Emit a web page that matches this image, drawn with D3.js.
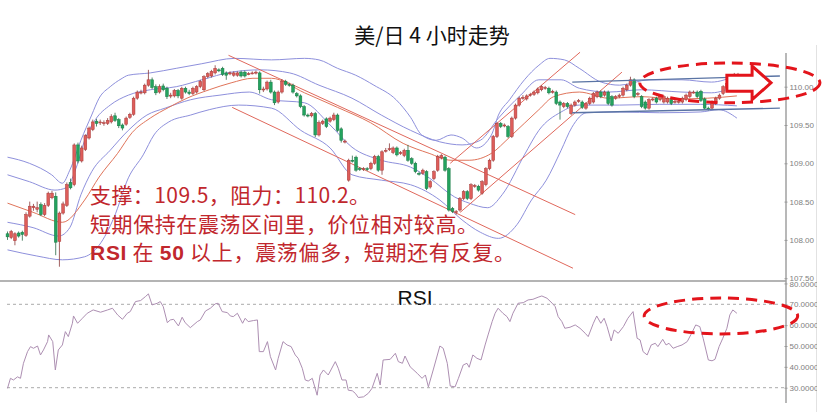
<!DOCTYPE html>
<html><head><meta charset="utf-8">
<script src="https://cdn.jsdelivr.net/npm/d3@7"></script>
<style>html,body{margin:0;padding:0;background:#fff;}svg{display:block;}</style>
</head><body><svg id="c" width="831" height="417"></svg>
<script>
// ---------- DATA (4-hour USD/JPY bars) ----------
const opens = [108.08,108.03,107.99,108.09,108.10,108.06,108.31,108.42,108.40,108.46,
108.33,108.45,108.55,108.57,107.98,108.35,108.45,108.75,108.72,109.24,
109.03,109.18,109.33,109.44,109.55,109.53,109.52,109.52,109.54,109.62,
109.57,109.50,109.51,109.60,109.64,109.85,109.92,109.92,110.02,110.09,
110.00,109.93,110.01,109.98,109.88,109.88,109.95,109.85,109.98,109.93,
109.91,109.93,110.00,109.96,110.13,110.14,110.18,110.22,110.24,110.18,
110.17,110.15,110.15,110.19,110.19,110.17,110.18,110.18,110.18,109.96,
109.97,110.06,109.93,109.80,109.93,110.07,110.03,110.02,109.91,109.88,
109.74,109.63,109.62,109.65,109.37,109.52,109.58,109.55,109.57,109.63,
109.45,109.28,108.78,109.04,109.08,108.93,108.92,108.93,108.93,
109.00,109.09,108.91,109.16,109.18,109.14,109.20,109.13,109.10,109.17,
109.06,109.00,108.87,108.87,108.89,108.69,108.80,108.91,109.07,109.08,
108.93,108.41,108.36,108.39,108.54,108.63,108.54,108.70,108.70,108.61,
108.72,108.93,109.04,109.35,109.52,109.49,109.48,109.35,109.59,109.76,
109.85,109.84,109.89,109.90,109.92,109.96,109.98,109.98,109.93,
109.93,109.80,109.74,109.78,109.65,109.76,109.81,109.80,109.72,109.78,
109.80,109.87,109.93,109.89,109.93,109.87,109.85,109.87,109.89,109.96,
110.02,110.09,109.90,109.87,109.80,109.72,109.83,109.85,109.83,109.80,
109.80,109.83,109.80,109.80,109.80,109.83,109.87,109.93,109.93,109.94,
109.84,109.72,109.72,109.78,109.85,109.91,109.98,110.04,110.14,110.14];
const closes = [108.04,108.11,108.08,108.05,108.07,108.33,108.44,108.44,108.42,108.33,
108.45,108.61,108.61,107.97,108.35,108.47,108.72,108.68,109.24,109.03,
109.20,109.36,109.46,109.54,109.52,109.54,109.53,109.56,109.61,109.56,
109.49,109.46,109.59,109.64,109.85,109.93,109.93,110.02,110.09,109.99,
109.92,110.00,109.96,109.87,109.89,109.95,109.88,109.98,109.93,109.91,
109.98,110.00,110.07,110.13,110.17,110.20,110.24,110.21,110.16,110.15,
110.18,110.18,110.18,110.14,110.14,110.17,110.18,110.19,109.96,109.97,
110.06,109.93,109.79,109.93,110.07,110.03,110.02,109.93,109.88,109.74,
109.63,109.62,109.65,109.37,109.53,109.55,109.48,109.59,109.63,109.43,
109.30,109.29,109.04,109.03,108.91,108.92,108.93,108.92,109.00,
109.09,108.91,109.15,109.17,109.19,109.20,109.11,109.14,109.17,109.04,
109.00,108.89,108.86,108.91,108.67,108.76,108.89,109.09,109.10,108.91,
108.39,108.37,108.37,108.54,108.63,108.54,108.72,108.71,108.65,108.76,
108.93,109.04,109.35,109.52,109.48,109.50,109.35,109.59,109.76,109.85,
109.86,109.88,109.90,109.93,109.97,110.00,109.99,109.92,109.94,
109.78,109.76,109.78,109.74,109.76,109.80,109.82,109.73,109.78,109.85,
109.91,109.93,109.87,109.93,109.78,109.76,109.87,109.89,109.98,110.02,
110.09,109.87,109.91,109.74,109.72,109.83,109.84,109.80,109.87,109.87,
109.85,109.78,109.81,109.81,109.85,109.89,109.93,109.93,109.87,109.82,
109.72,109.71,109.80,109.85,109.89,110.00,110.04,110.11,110.15,110.16];
const highs = [108.11,108.13,108.10,108.11,108.12,108.36,108.50,108.47,108.50,108.49,
108.48,108.63,108.64,108.62,108.37,108.50,108.75,108.80,109.26,109.27,
109.23,109.38,109.48,109.57,109.58,109.57,109.56,109.59,109.64,109.66,
109.59,109.52,109.61,109.66,109.87,109.95,109.96,110.04,110.22,110.12,
110.03,110.03,110.04,110.00,109.92,109.97,109.97,110.00,110.00,109.96,
110.00,110.02,110.09,110.15,110.19,110.22,110.28,110.24,110.26,110.20,
110.20,110.20,110.20,110.21,110.21,110.19,110.20,110.21,110.20,110.00,
110.08,110.09,109.95,109.95,110.10,110.09,110.05,110.04,109.93,109.90,
109.76,109.65,109.67,109.67,109.56,109.57,109.60,109.61,109.66,109.65,
109.47,109.31,109.06,109.10,109.10,108.95,108.95,108.95,109.02,
109.11,109.11,109.17,109.20,109.26,109.22,109.22,109.16,109.19,109.24,
109.08,109.02,108.89,108.93,108.91,108.78,108.91,109.11,109.12,109.10,
108.95,108.43,108.39,108.56,108.65,108.65,108.74,108.73,108.72,108.78,
108.95,109.06,109.37,109.54,109.54,109.52,109.50,109.61,109.78,109.87,
109.89,109.90,109.92,109.95,109.99,110.02,110.01,110.00,109.96,
109.95,109.82,109.80,109.80,109.78,109.82,109.84,109.82,109.80,109.87,
109.93,109.95,109.95,109.95,109.95,109.89,109.89,109.91,110.00,110.04,
110.13,110.11,109.93,109.89,109.82,109.85,109.86,109.87,109.89,109.89,
109.87,109.85,109.83,109.83,109.87,109.91,109.95,109.95,109.95,109.96,
109.86,109.74,109.82,109.87,109.91,110.02,110.07,110.13,110.18,110.18];
const lows = [108.00,108.01,107.93,108.03,107.99,108.04,108.29,108.38,108.36,108.31,
108.31,108.43,108.53,107.80,107.65,108.33,108.43,108.66,108.70,109.00,
109.01,109.16,109.31,109.42,109.48,109.50,109.49,109.50,109.52,109.54,
109.46,109.43,109.49,109.58,109.62,109.83,109.90,109.90,110.00,109.97,
109.89,109.91,109.94,109.84,109.85,109.86,109.85,109.83,109.91,109.89,
109.89,109.91,109.98,109.94,110.11,110.12,110.16,110.19,110.14,110.09,
110.15,110.13,110.13,110.12,110.12,110.15,110.16,110.16,109.91,109.93,
109.95,109.91,109.76,109.78,109.91,110.01,110.00,109.91,109.86,109.72,
109.61,109.60,109.60,109.34,109.35,109.50,109.46,109.53,109.55,109.41,
109.27,109.26,108.76,109.01,108.89,108.90,108.90,108.90,108.91,
108.98,108.89,108.85,109.14,109.16,109.12,109.09,109.11,109.08,109.02,
108.98,108.87,108.84,108.85,108.65,108.67,108.78,108.89,109.05,108.89,
108.37,108.35,108.33,108.37,108.52,108.52,108.52,108.68,108.63,108.59,
108.70,108.91,109.02,109.33,109.46,109.47,109.33,109.33,109.57,109.74,
109.83,109.82,109.87,109.88,109.90,109.94,109.96,109.90,109.91,
109.76,109.57,109.72,109.72,109.63,109.74,109.79,109.71,109.70,109.76,
109.78,109.85,109.85,109.87,109.76,109.74,109.83,109.85,109.87,109.94,
110.00,109.85,109.88,109.72,109.70,109.70,109.81,109.78,109.81,109.78,
109.78,109.76,109.78,109.78,109.78,109.81,109.85,109.91,109.85,109.80,
109.70,109.69,109.70,109.76,109.83,109.89,109.96,110.02,110.12,110.12];

// band lines: [bar index, price]
const bandOuterUp = [[0,109.08],[5.9,109.00],[11.9,108.85],[14.8,108.74],[16.8,108.91],[19.8,109.30],[22.7,109.63],[24.7,109.85],[27.7,110.00],[30.6,110.10],[32.6,110.15],[38.5,110.18],[45.5,110.24],[52.4,110.30],[61.3,110.37],[71.2,110.35],[80.1,110.37],[84,110.35],[89,110.24],[93.9,110.15],[98.8,110.02],[104.8,109.83],[108.7,109.60],[111.7,109.37],[115.6,109.30],[119.6,109.37],[122.6,109.33],[126.5,109.20],[130.5,109.37],[132.4,109.63],[135.4,109.83],[139.4,110.09],[143.3,110.28],[146.3,110.37],[150.2,110.35],[154.2,110.24],[160.1,110.06],[165.1,110.02],[173,110.09],[181.9,110.09],[189.8,110.06],[196.7,110.15]];
const bandInnerUp = [[0,108.85],[5.9,108.76],[12.8,108.65],[15.8,108.68],[18.8,108.98],[20.8,109.30],[23.7,109.57],[27.7,109.76],[32.6,109.89],[38.5,109.96],[45.5,110.00],[52.4,110.09],[60.3,110.19],[68.2,110.22],[76.1,110.18],[84,110.02],[92.9,109.85],[100.8,109.63],[108.7,109.43],[116.6,109.28],[122.6,109.24],[127.5,109.30],[132.4,109.59],[138.4,109.89],[143.3,110.09],[149.3,110.09],[154.2,109.98],[162.1,109.93],[171,109.96],[181.9,109.93],[189.8,109.92],[196.7,110.02]];
const bandMid = [[0,108.48],[6.9,108.36],[14.8,108.23],[20.8,108.52],[24.7,108.82],[29.7,109.13],[33.6,109.40],[38.5,109.59],[43.5,109.73],[48.4,109.85],[54.4,109.96],[60.3,110.05],[66.2,110.11],[71.2,110.11],[80.1,109.92],[89,109.73],[97.9,109.53],[106.7,109.26],[113.7,109.13],[119.6,109.04],[124.5,109.04],[130.5,109.13],[135.4,109.34],[143.3,109.70],[147.3,109.87],[154.2,109.93],[162.1,109.85],[171,109.87],[179.9,109.84],[188.8,109.85],[196.7,109.88]];
const bandInnerLow = [[0,108.23],[6.9,108.16],[13.8,108.05],[16.8,108.16],[19.8,108.59],[22.7,108.89],[27.7,109.17],[32.6,109.43],[37.6,109.63],[42.5,109.72],[49.4,109.83],[57.3,109.89],[65.2,109.93],[71.2,109.83],[80.1,109.79],[87,109.50],[92.9,109.21],[100.8,109.04],[108.7,108.95],[113.7,108.81],[120.6,108.56],[124.5,108.48],[129.5,108.42],[133.4,108.59],[139.4,109.11],[143.3,109.43],[149.3,109.67],[154.2,109.76],[165.1,109.76],[175.9,109.77],[186.8,109.77],[196.7,109.75]];
const bandOuterLow = [[0,107.87],[7.9,107.79],[14.8,107.74],[20.8,107.78],[24.7,107.93],[28.7,108.29],[32.6,108.81],[36.6,109.11],[39.5,109.37],[43.5,109.54],[49.4,109.63],[54.4,109.70],[62.3,109.76],[71.2,109.72],[79.1,109.43],[87,109.20],[92.9,108.85],[100.8,108.78],[108.7,108.72],[116.6,108.52],[122.6,108.26],[127.5,108.10],[132.4,108.02],[137.4,108.20],[141.3,108.52],[145.3,108.78],[149.3,109.17],[152.2,109.47],[156.2,109.66],[165.1,109.67],[175.9,109.66],[186.8,109.67],[191.8,109.70],[196.7,109.59]];

// hand-drawn trend lines: [[bar, price],[bar, price]]
const trendRed = [
  [[59.6,110.41],[153.1,108.33]],
  [[60.6,109.73],[152.5,107.63]],
  [[119.4,109.00],[154.4,110.45]],
  [[122.1,108.36],[165.7,110.19]]
];
const trendBlue = [
  [[152.3,110.06],[208.3,110.14]],
  [[152.3,109.66],[208.3,109.72]]
];

// RSI: [bar index, value]
const rsi = [[0,29.7],[0.8,34.5],[1.6,33.7],[2.7,35.2],[3.5,34.5],[4.3,41.7],[5.4,47.3],[6.2,49.7],[7,48.9],[8.1,50],[8.9,45.7],[9.7,48.1],[10.8,52.1],[11.1,55.3],[12.2,52.1],[12.9,38.5],[13.7,48.1],[14.8,50.5],[15.6,56.9],[16.4,54.5],[17.5,60.9],[17.8,64.4],[18.9,60.9],[20.2,63.3],[21.5,65.7],[23.1,67.3],[25.1,66.2],[27,67.3],[28.3,68.1],[29.7,64.9],[31,62.8],[32.3,65.7],[33.1,66.5],[34.5,71.3],[35.9,71.8],[37.2,73.7],[38,75],[39,69.7],[40.4,70.5],[41.2,71.3],[42,68.9],[43.1,61.2],[43.9,62.5],[44.8,62.8],[46.1,59.6],[47.1,63.8],[47.9,61.2],[49.3,58.8],[51.2,61.7],[52,62.5],[53.4,66.8],[54.7,68.1],[56,70.2],[56.8,70.5],[57.9,66.5],[59.3,66],[60.1,64.4],[60.9,64.1],[62,65.7],[63.4,60.9],[64.1,63.3],[64.9,61.7],[66.3,62.2],[67.4,62.5],[67.9,47.3],[69,47.3],[70.1,52.1],[70.9,44.9],[72.3,38.5],[73,44.1],[74.3,52.1],[75.4,50.5],[76.5,49.7],[77.6,45.7],[78.4,44.1],[79.5,39.3],[80.3,33.7],[81.1,33.2],[82.2,34.5],[83.5,26.4],[84.3,36.1],[85.2,38.5],[86.5,36.1],[88.4,42.5],[89.2,39.3],[90.2,33.7],[91.3,33.7],[91.9,28.8],[93,28.5],[93.8,27.3],[94.6,25.3],[96,25.6],[97.3,27.3],[98.3,29.7],[99.7,36.9],[100.5,31.3],[101.3,43.3],[103.2,43.6],[104.6,46.5],[105.4,42.5],[106.5,41.7],[107.2,45.2],[108.6,40],[110.5,36.9],[111.8,34.5],[112.7,36.1],[113.5,30.4],[114.8,38.5],[116.6,50],[117.5,48.9],[118.6,41.7],[119.4,30.8],[120.7,30.4],[121.6,34.5],[122.9,40.9],[123.9,41.7],[124.5,39.8],[125.5,45.7],[126.6,44.1],[127.7,43.3],[128.8,50.5],[129.6,55.3],[130.7,61.7],[131.5,65.7],[132.3,68.1],[133.6,65.7],[134.7,64.1],[135.5,61.7],[136.3,65.7],[137.7,70.5],[139.1,70.8],[140.4,72.1],[141.7,72.4],[143.1,73.4],[144.1,74],[145.5,72.9],[146.9,70.5],[147.7,68.9],[148.5,64.1],[149.5,61.7],[150.3,58.5],[151.7,59],[153.1,60.1],[154.4,58.5],[155.8,56.1],[156.6,54.5],[158,60.9],[158.9,64.4],[160,60.9],[160.9,63.3],[161.7,59.3],[162.8,52.4],[163.6,57.7],[164.7,56.1],[166.1,59.3],[167.3,63.3],[168.7,66.5],[169.8,53.7],[170.6,52.9],[171.4,47.3],[172.5,45.7],[173.6,50.5],[174.7,51.3],[175.4,49.7],[176.7,53.2],[177.6,50.5],[178.4,51.3],[179.5,48.9],[180.6,49.7],[181.9,50.5],[183.3,52.1],[184.5,56.1],[185.6,60.1],[186.7,59.3],[187.6,53.7],[189,43.3],[190,42.9],[190.8,43.6],[191.9,49.7],[192.9,53.7],[194,58.5],[194.8,64.9],[195.6,67.3],[196.7,65.7]];

const priceTicks = [107.5,108,108.5,109,109.5,110];
const rsiTicks = [30,40,50,60,70,80];
const rsiLevels = [70,30];
const title = "美/日 4 小时走势";
const notes = [
  [{t:"支撑：109.5，阻力：110.2。"}],
  [{t:"短期保持在震荡区间里，价位相对较高。"}],
  [{t:"RSI",s:1},{t:" 在 "},{t:"50",s:1},{t:" 以上，震荡偏多，短期还有反复。"}]
];
// annotation marks in data units
const priceEllipse = {t:194.8, p:110.05, rt:24.3, rp:0.26};
const rsiEllipse = {t:192.4, v:64.4, rt:20.7, rv:8.6};
const arrow = {t0:194.0, t1:200.8, t2:205.9, bodyTop:110.15, bodyBot:109.94, headTop:110.27, headBot:109.83, mid:110.05};

// ---------- DRAW ----------
const svg = d3.select("#c");
svg.append("rect").attr("width",831).attr("height",417).attr("fill","#fff");

const x = d3.scaleLinear().domain([0,197]).range([7.5,738]);
const y = d3.scaleLinear().domain([107.5,110]).range([278.2,86.7]);
const yR = d3.scaleLinear().domain([30,70]).range([387.7,304.3]);

const defs = svg.append("defs");
defs.append("clipPath").attr("id","cp").append("rect").attr("x",0).attr("y",45).attr("width",786).attr("height",235);
defs.append("clipPath").attr("id","cl").append("rect").attr("x",780).attr("y",0).attr("width",37).attr("height",417);

// title
svg.append("text").attr("x",432).attr("y",43).attr("text-anchor","middle")
  .attr("font-family","'Noto Sans CJK SC','Noto Sans',sans-serif").attr("font-size",21).attr("fill","#111").text(title);

// frame lines
svg.append("line").attr("x1",0).attr("x2",786).attr("y1",281).attr("y2",281).attr("stroke","#b4b4b4").attr("stroke-width",2);
svg.append("line").attr("x1",786).attr("x2",786).attr("y1",53).attr("y2",403).attr("stroke","#a0a0a0").attr("stroke-width",1.5);
svg.append("line").attr("x1",816.5).attr("x2",816.5).attr("y1",45).attr("y2",412).attr("stroke","#e2e2e2").attr("stroke-width",1);

// axes (outer group carries the clip in page coordinates)
const axWrap = svg.append("g").attr("clip-path","url(#cl)");
const axP = axWrap.append("g").attr("transform","translate(784.5,0)")
  .call(d3.axisRight(y).tickValues(priceTicks).tickFormat(d3.format(".2f")).tickSize(3).tickPadding(2));
const axR = axWrap.append("g").attr("transform","translate(784.5,0)")
  .call(d3.axisRight(yR).tickValues(rsiTicks).tickFormat(d3.format(".4f")).tickSize(3).tickPadding(2));
[axP,axR].forEach(a=>{
  a.select(".domain").remove();
  a.selectAll("line").attr("stroke","#999");
  a.selectAll("text").attr("fill","#808080").attr("font-size",8).attr("font-family","'Liberation Sans',Arial,sans-serif");
});

const plot = svg.append("g").attr("clip-path","url(#cp)");

// bands
const bandLine = d3.line().x(d=>x(d[0])).y(d=>y(d[1])).curve(d3.curveMonotoneX);
[bandOuterUp,bandInnerUp,bandInnerLow,bandOuterLow].forEach(b=>{
  plot.append("path").attr("d",bandLine(b)).attr("fill","none").attr("stroke","#8e90dc").attr("stroke-width",1);
});
plot.append("path").attr("d",bandLine(bandMid)).attr("fill","none").attr("stroke","#e0745a").attr("stroke-width",1);

// trend lines
trendRed.forEach(l=>{
  plot.append("line").attr("x1",x(l[0][0])).attr("y1",y(l[0][1])).attr("x2",x(l[1][0])).attr("y2",y(l[1][1]))
    .attr("stroke","#e0685c").attr("stroke-width",1);
});
trendBlue.forEach(l=>{
  svg.append("line").attr("x1",x(l[0][0])).attr("y1",y(l[0][1])).attr("x2",x(l[1][0])).attr("y2",y(l[1][1]))
    .attr("stroke","#5a74a4").attr("stroke-width",1.3);
});

// candles
const bars = d3.range(opens.length).map(i=>({i,o:opens[i],c:closes[i],h:highs[i],l:lows[i]}));
const bw = 2.8;
const cg = plot.append("g");
cg.selectAll("line.w").data(bars).join("line").attr("class","w")
  .attr("x1",d=>x(d.i)).attr("x2",d=>x(d.i)).attr("y1",d=>y(d.h)).attr("y2",d=>y(d.l))
  .attr("stroke",d=>d.c>=d.o?"#8a3a3a":"#2a6a45").attr("stroke-width",0.8);
cg.selectAll("rect").data(bars).join("rect")
  .attr("x",d=>x(d.i)-bw/2).attr("width",bw)
  .attr("y",d=>y(Math.max(d.o,d.c)))
  .attr("height",d=>Math.max(1,Math.abs(y(d.o)-y(d.c))))
  .attr("fill",d=>d.c>=d.o?"#de5d5a":"#23a35f")
  .attr("stroke",d=>d.c>=d.o?"#a83a38":"#187a44").attr("stroke-width",0.5);

// annotation text
const tg = svg.append("g").attr("fill","#c1272d").attr("font-size",21)
  .attr("font-family","'Noto Sans CJK SC','Noto Sans',sans-serif");
const lineLen = [280,388,425];
notes.forEach((ln,k)=>{
  const t = tg.append("text").attr("x",90).attr("y",203+k*28.5)
    .attr("textLength",lineLen[k]).attr("lengthAdjust","spacing");
  ln.forEach(seg=>{
    const s = t.append("tspan").text(seg.t);
    if(seg.s) s.attr("font-family","'Liberation Sans',Arial,sans-serif").attr("font-weight","bold");
  });
});

// RSI panel
svg.append("text").attr("x",415).attr("y",305).attr("text-anchor","middle")
  .attr("font-family","'Liberation Sans',Arial,sans-serif").attr("font-size",21).attr("fill","#111").text("RSI");
rsiLevels.forEach(v=>{
  svg.append("line").attr("x1",7).attr("x2",784).attr("y1",yR(v)).attr("y2",yR(v))
    .attr("stroke","#aaaaaa").attr("stroke-width",1).attr("stroke-dasharray","3,3");
});
svg.append("path").attr("d",d3.line().x(d=>x(d[0])).y(d=>yR(d[1]))(rsi))
  .attr("fill","none").attr("stroke","#ad8fb2").attr("stroke-width",1);

// dashed ellipses
svg.append("ellipse").attr("cx",x(priceEllipse.t)).attr("cy",y(priceEllipse.p))
  .attr("rx",x(priceEllipse.t+priceEllipse.rt)-x(priceEllipse.t))
  .attr("ry",y(priceEllipse.p-priceEllipse.rp)-y(priceEllipse.p))
  .attr("fill","none").attr("stroke","#e3141b").attr("stroke-width",3).attr("stroke-dasharray","11,7");
svg.append("ellipse").attr("cx",x(rsiEllipse.t)).attr("cy",yR(rsiEllipse.v))
  .attr("rx",x(rsiEllipse.t+rsiEllipse.rt)-x(rsiEllipse.t))
  .attr("ry",yR(rsiEllipse.v-rsiEllipse.rv)-yR(rsiEllipse.v))
  .attr("fill","none").attr("stroke","#e3141b").attr("stroke-width",3).attr("stroke-dasharray","11,7");

// arrow
const A = arrow;
const pts = [[x(A.t0),y(A.bodyTop)],[x(A.t1),y(A.bodyTop)],[x(A.t1),y(A.headTop)],[x(A.t2),y(A.mid)],
  [x(A.t1),y(A.headBot)],[x(A.t1),y(A.bodyBot)],[x(A.t0),y(A.bodyBot)]];
svg.append("polygon").attr("points",pts.map(p=>p.join(",")).join(" "))
  .attr("fill","#fff").attr("stroke","#e3141b").attr("stroke-width",3).attr("stroke-linejoin","miter");
</script></body></html>
